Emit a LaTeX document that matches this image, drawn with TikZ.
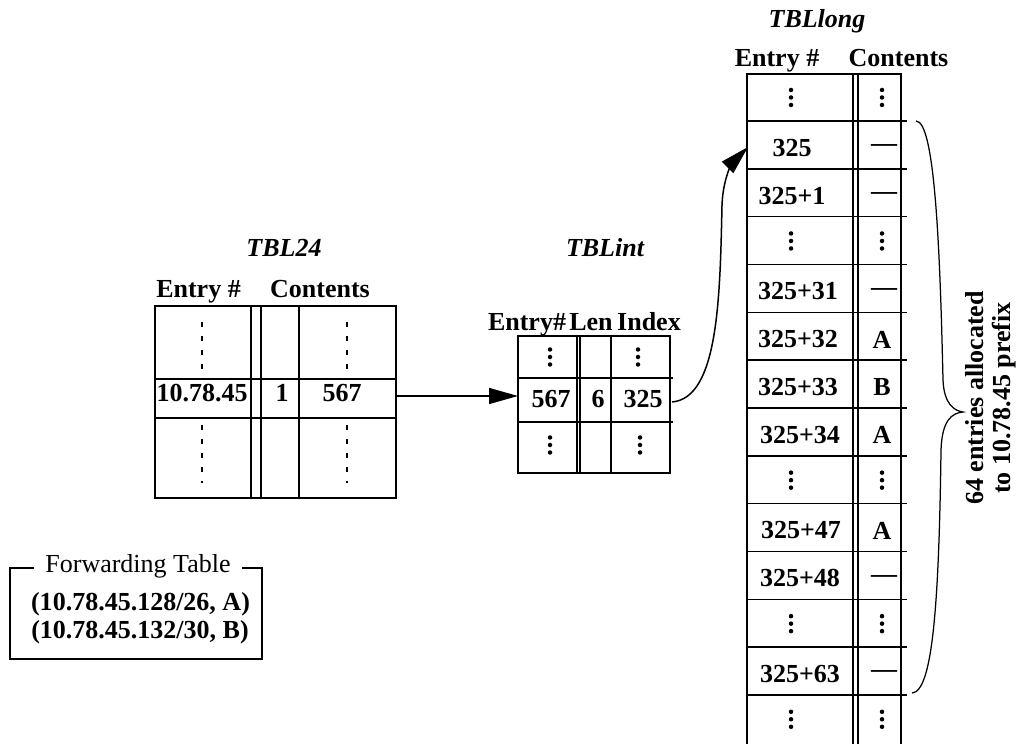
\documentclass[tikz,border=0pt]{standalone}
\usepackage{fontspec}
\setmainfont{Liberation Serif}
\usetikzlibrary{arrows.meta, positioning}

\begin{document}
\begin{tikzpicture}[
  x=0.4pt, y=-0.4pt,
  every node/.style={font=\fontsize{10.4}{12.5}\selectfont\bfseries, inner sep=0pt},
  lbl/.style={anchor=base},
  ttl/.style={anchor=base, font=\fontsize{10.4}{12.5}\selectfont\bfseries\itshape},
  grid/.style={line width=0.6pt},
  dashcol/.style={line width=0.6pt, dash pattern=on 2pt off 3.6pt},
  ptr/.style={line width=0.6pt, -{Triangle[length=11.6pt, width=6.4pt]}},
  dotcol/.pic={\foreach \d in {-7.5,0,7.5} \fill (0,\d) circle[radius=0.9pt];},
]
  \useasboundingbox (0,0) rectangle (1018,744);

  \draw[grid] (155,306) rectangle (396,498);
  \draw[grid] (251,306) -- (251,498) (261,306) -- (261,498) (299,306) -- (299,498);
  \draw[grid] (155,379) -- (396,379) (155,418) -- (396,418);
  \draw[dashcol] (202,322) -- (202,377) (202,425) -- (202,483);
  \draw[dashcol] (347,322) -- (347,377) (347,425) -- (347,483);
  \node[ttl] (t24-title) at (284,257) {TBL24};
  \node[lbl] (t24-hent) at (198.5,298) {Entry \#};
  \node[lbl] (t24-hcnt) at (320,298) {Contents};
  \node[lbl] (t24-ent) at (202,402) {10.78.45};
  \node[lbl] (t24-len) at (282,402) {1};
  \node[lbl] (t24-cnt) at (342,402) {567};

  \draw[grid] (518,336) rectangle (670,473);
  \draw[grid] (577,336) -- (577,473) (580,336) -- (580,473) (611,336) -- (611,473);
  \draw[grid] (518,378) -- (673,378) (518,422) -- (673,422);
  \node[ttl] (int-title) at (605,257) {TBLint};
  \node[lbl] (int-hent) at (527,331) {Entry\#};
  \node[lbl] (int-hlen) at (591,331) {Len};
  \node[lbl] (int-hidx) at (649,331) {Index};
  \node[lbl] (int-ent) at (551,408) {567};
  \node[lbl] (int-len) at (598,408) {6};
  \node[lbl] (int-idx) at (643,408) {325};
  \pic (int-d1) at (550,357) {dotcol};
  \pic (int-d2) at (638,357) {dotcol};
  \pic (int-d3) at (550,445) {dotcol};
  \pic (int-d4) at (640,445) {dotcol};

  \draw[grid] (747,744) -- (747,74) -- (901,74) -- (901,744);
  \draw[grid] (853,74) -- (853,744) (858,74) -- (858,744);
  \foreach \k in {0,...,12}
    \draw[grid] (747,{121+\k*47.83}) -- (907,{121+\k*47.83});
  \node[ttl] (long-title) at (817,28) {TBLlong};
  \node[lbl] (long-hent) at (777,67) {Entry \#};
  \node[lbl] (long-hcnt) at (898.5,67) {Contents};
  \foreach \i/\xe/\ent in {2/792/325, 3/792/325+1, 5/798/325+31, 6/798/325+32,
      7/798/325+33, 8/800/325+34, 10/801/325+47, 11/800/325+48, 13/800/325+63}
    \node[lbl] (long-e\i) at (\xe,{108.5+(\i-1)*47.83}) {\ent};
  \foreach \i/\cnt in {6/A, 7/B, 8/A, 10/A}
    \node[lbl] (long-c\i) at (882,{109+(\i-1)*47.83}) {\cnt};
  \foreach \i in {2,3,5,11,13}
    \node[lbl] (long-c\i) at (884,{104+(\i-1)*47.83}) {—};
  \foreach \i in {1,4,9,12,14} {
    \pic (long-de\i) at (791,{97.5+(\i-1)*47.83}) {dotcol};
    \pic (long-dc\i) at (882,{97.5+(\i-1)*47.83}) {dotcol};
  }

  \coordinate (t24-out) at (396,396);
  \coordinate (int-in) at (518,396);
  \coordinate (int-out) at (672,402);
  \coordinate (long-in) at (748,147);
  \draw[ptr] (t24-out) -- (int-in);
  \draw[ptr] (int-out) .. controls (718,398) and (720,300) .. (722,205)
    .. controls (723,175) and (735,160) .. (long-in);

  \coordinate (brace-top) at (916,121);
  \coordinate (brace-bot) at (912,693);
  \draw[line width=0.5pt] (brace-top) .. controls (935,121) and (940,250) .. (943,380)
    .. controls (944,405) and (955,411) .. (963,412)
    .. controls (952,413) and (942,420) .. (941,450)
    .. controls (939,600) and (933,692) .. (brace-bot);
  \node[rotate=90, align=center, font=\fontsize{10.4}{10.8}\selectfont\bfseries]
    (brace-lbl) at (991,398) {64 entries allocated\\to 10.78.45 prefix};

  \draw[grid] (10,568) rectangle (262,659);
  \node[lbl, fill=white, inner xsep=4.4pt, inner ysep=2pt, font=\fontsize{10.4}{12.5}\selectfont]
    (fwd-title) at (138,572) {Forwarding Table};
  \node[lbl] (fwd-a) at (140.5,610) {(10.78.45.128/26, A)};
  \node[lbl] (fwd-b) at (140,638) {(10.78.45.132/30, B)};
\end{tikzpicture}
\end{document}
